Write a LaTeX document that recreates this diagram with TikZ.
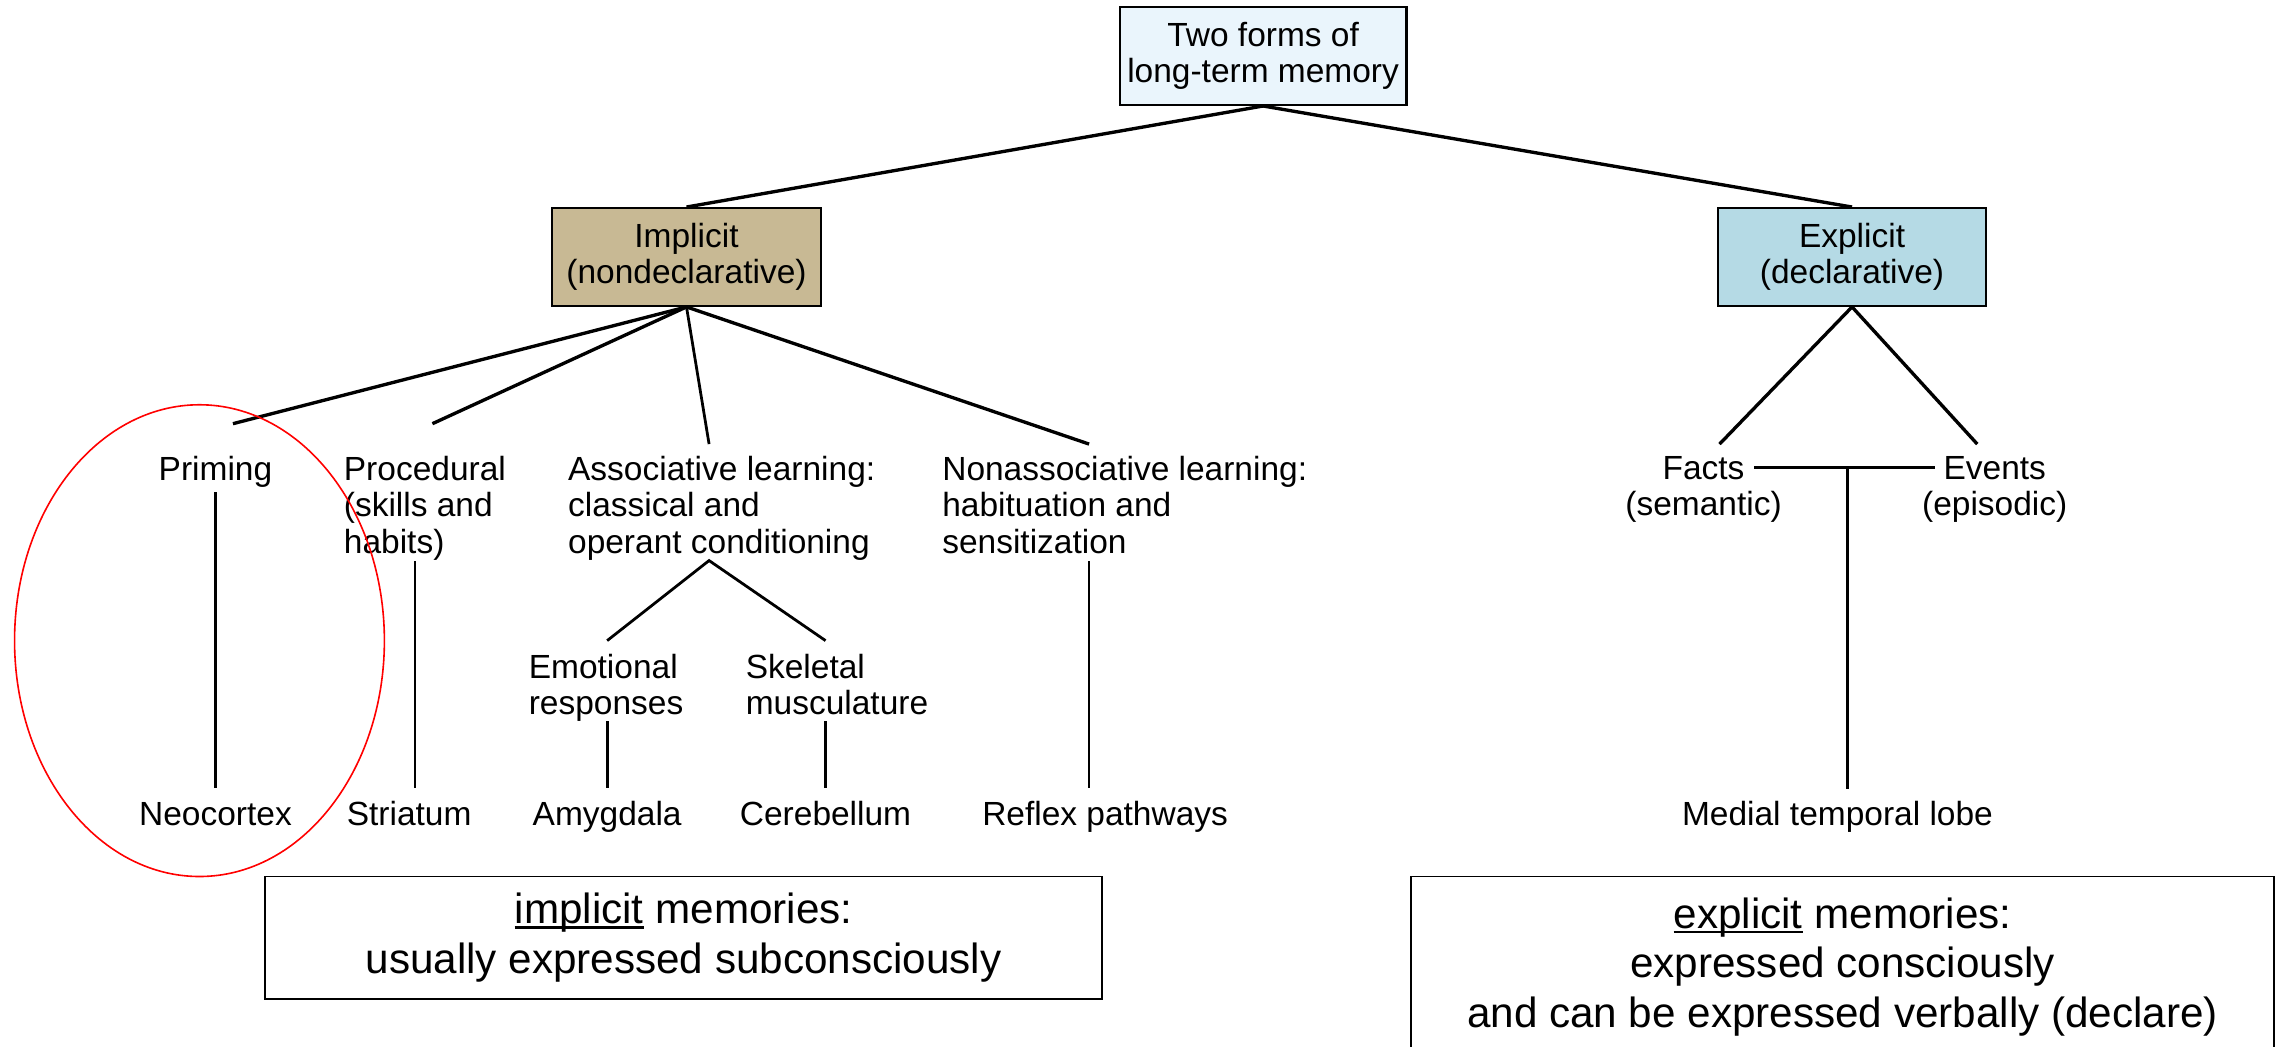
\documentclass[tikz,border=0pt]{standalone}
\usepackage{fontspec}
\setmainfont{Liberation Sans}
\definecolor{topblue}{HTML}{EAF5FC}
\definecolor{tanfill}{HTML}{C8B994}
\definecolor{expblue}{HTML}{B5DAE5}
\newcommand{\thickul}[1]{{\setbox0=\hbox{#1}\rlap{\rule[-3.5pt]{\wd0}{1.9pt}}\box0}}
\begin{document}
\begin{tikzpicture}[x=1pt,y=-1pt,
  lbl/.style={font=\fontsize{23}{25}\selectfont, inner sep=0pt},
  mbox/.style={draw=black, line width=1.6pt, align=center, inner sep=0pt,
    minimum height=67pt, font=\fontsize{23}{25}\selectfont},
  note/.style={draw=black, line width=1.3pt, align=center, inner sep=0pt,
    font=\fontsize{29}{34}\selectfont},
  br/.style={line width=2.3pt},
  ln/.style={line width=1.9pt}]
\useasboundingbox (0,0) rectangle (1568,719);
% main boxes
\node[mbox, fill=topblue, minimum width=197pt] (top) at (867.5,38.5) {Two forms of\\long-term memory};
\node[mbox, fill=tanfill, minimum width=185pt] (impl) at (471.5,176.5) {Implicit\\(nondeclarative)};
\node[mbox, fill=expblue, minimum width=184pt] (expl) at (1272,176.5) {Explicit\\(declarative)};
% implicit children
\node[lbl, anchor=base] (prim) at (148,330) {Priming};
\node[lbl, anchor=north west, align=left] (proc) at (236,313) {Procedural\\(skills and\\habits)};
\node[lbl, anchor=north west, align=left] (assoc) at (390,313) {Associative learning:\\classical and\\operant conditioning};
\node[lbl, anchor=north west, align=left] (nonassoc) at (647,313) {Nonassociative learning:\\habituation and\\sensitization};
\node[lbl, anchor=north west, align=left] (emo) at (363,449) {Emotional\\responses};
\node[lbl, anchor=north west, align=left] (skel) at (512,449) {Skeletal\\musculature};
\node[lbl, anchor=base] (neo) at (148,567) {Neocortex};
\node[lbl, anchor=base] (stri) at (281,567) {Striatum};
\node[lbl, anchor=base] (amyg) at (417,567) {Amygdala};
\node[lbl, anchor=base] (cere) at (567,567) {Cerebellum};
\node[lbl, anchor=base] (refl) at (759,567) {Reflex pathways};
% explicit children
\node[lbl, anchor=north, align=center] (facts) at (1170,313) {Facts\\(semantic)};
\node[lbl, anchor=north, align=center] (events) at (1370,313) {Events\\(episodic)};
\node[lbl, anchor=base] (mtl) at (1262,567) {Medial temporal lobe};
% connector ends
\coordinate (primT) at (160,291);
\coordinate (procT) at (297,291);
\coordinate (assocT) at (487,305);
\coordinate (nonT) at (748,305);
\coordinate (fork) at (487,385);
\coordinate (emoT) at (417,440);
\coordinate (skelT) at (567,440);
\coordinate (factsT) at (1181,305);
\coordinate (eventsT) at (1358,305);
\coordinate (hl) at (1205,321);
\coordinate (hr) at (1329,321);
\coordinate (tj) at (1269,321);
% connectors
\draw[br] (top.south) -- (impl.north);
\draw[br] (top.south) -- (expl.north);
\draw[br] (impl.south) -- (primT);
\draw[br] (impl.south) -- (procT);
\draw[ln] (impl.south) -- (assocT);
\draw[br] (impl.south) -- (nonT);
\draw[ln] ([yshift=-8pt]prim.base) -- ([yshift=26pt]neo.base);
\draw[ln] (stri.base) ++(4,-26) -- ++(0,-156);
\draw[ln] (emoT) -- (fork) -- (skelT);
\draw[ln] (amyg.base) ++(0,-26) -- ++(0,-46);
\draw[ln] (cere.base) ++(0,-26) -- ++(0,-46);
\draw[ln] (refl.base) ++(-11,-26) -- ++(0,-156);
\draw[br] (expl.south) -- (factsT);
\draw[br] (expl.south) -- (eventsT);
\draw[br] (hl) -- (hr);
\draw[ln] (tj) -- ([xshift=7pt,yshift=25pt]mtl.base);
% red ellipse
\draw[red, line width=1.1pt] (137,440) ellipse [x radius=127, y radius=162];
% notes
\node[note, minimum width=575pt, minimum height=84pt] (inote) at (469.5,644) {\thickul{implicit} memories:\\usually expressed subconsciously};
\node[note, minimum width=593pt, minimum height=124pt] (enote) at (1265.5,664) {\thickul{explicit} memories:\\expressed consciously\\and can be expressed verbally (declare)};
\end{tikzpicture}
\end{document}
